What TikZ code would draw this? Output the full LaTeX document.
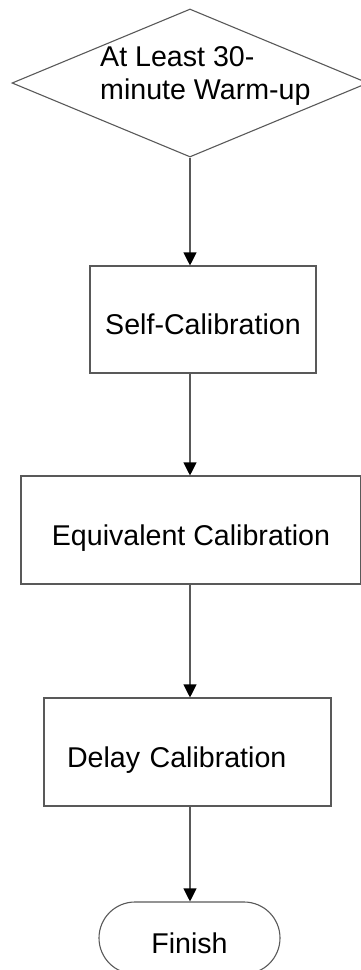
\documentclass[tikz,border=0pt]{standalone}
\usepackage{fontspec}
\setmainfont{Liberation Sans}
\usetikzlibrary{shapes.geometric,arrows.meta}
\begin{document}
\begin{tikzpicture}[x=1pt,y=-1pt,
  lbl/.style={font=\fontsize{28.6}{33}\selectfont, text=black},
  boxnode/.style={draw=black!65, line width=1.1pt, rectangle, inner sep=0pt, lbl, text height=30pt, text depth=0pt},
  flow/.style={draw=black!65, line width=1.1pt, -{Triangle[width=13pt,length=13pt,color=black,fill=black]}}
]
\useasboundingbox (0,0) rectangle (360,970);
% decision
\node[diamond, draw=black!65, line width=1.1pt, minimum width=356pt, minimum height=148pt, inner sep=0pt] (d) at (190,83) {};
\node[lbl, anchor=north west, inner sep=0pt, align=left] (dtxt) at (100,46.5) {At Least 30-\\minute Warm-up};
% process boxes
\node[boxnode, minimum width=226pt, minimum height=107pt] (r1) at (203,319.5) {Self-Calibration};
\node[boxnode, minimum width=340pt, minimum height=108pt] (r2) at (191,530) {Equivalent Calibration};
\node[boxnode, inner xsep=23pt, text width=241pt, align=left, minimum height=108pt] (r3) at (187.5,752) {Delay Calibration};
% terminal
\node[boxnode, rounded corners=36pt, minimum width=181pt, minimum height=72pt] (f) at (189.5,938) {Finish};
% connectors
\draw[flow] (d.south) -- (d.south |- r1.north);
\draw[flow] (d.south |- r1.south) -- (d.south |- r2.north);
\draw[flow] (d.south |- r2.south) -- (d.south |- r3.north);
\draw[flow] (d.south |- r3.south) -- (d.south |- f.north);
\end{tikzpicture}
\end{document}
